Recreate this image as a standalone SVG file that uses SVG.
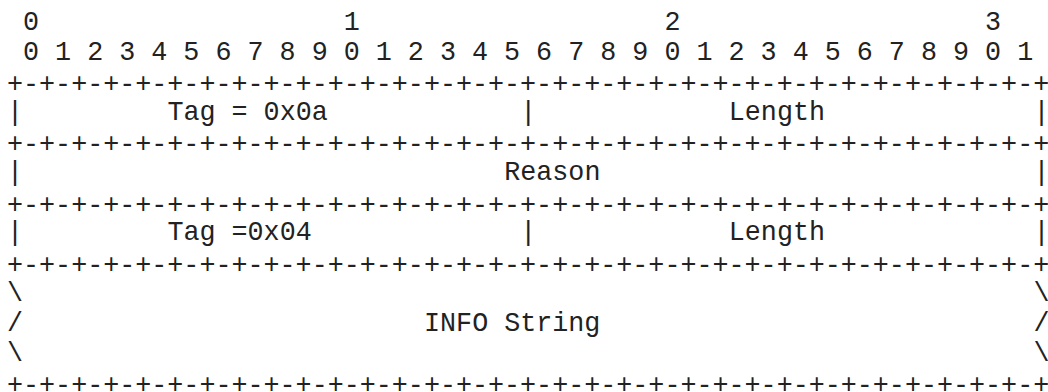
<svg xmlns="http://www.w3.org/2000/svg" width="1048" height="392" viewBox="0 0 1048 392">
<style>
text { font-family: "Liberation Mono", "Courier New", monospace; font-size: 26.73px; fill: #222; white-space: pre; }
</style>
<rect x="0" y="0" width="1048" height="392" fill="#ffffff"/>
<g id="ruler">
<text x="7" y="29.5" xml:space="preserve"> 0                   1                   2                   3</text>
<text x="7" y="59.6" xml:space="preserve"> 0 1 2 3 4 5 6 7 8 9 0 1 2 3 4 5 6 7 8 9 0 1 2 3 4 5 6 7 8 9 0 1</text>
</g>
<g id="connectors">
<text x="7" y="92.2">+-+-+-+-+-+-+-+-+-+-+-+-+-+-+-+-+-+-+-+-+-+-+-+-+-+-+-+-+-+-+-+-+</text>
<text x="7" y="120">|</text>
<text x="520.28" y="120">|</text>
<text x="1033.56" y="120">|</text>
<text x="7" y="152.4">+-+-+-+-+-+-+-+-+-+-+-+-+-+-+-+-+-+-+-+-+-+-+-+-+-+-+-+-+-+-+-+-+</text>
<text x="7" y="180.2">|</text>
<text x="1033.56" y="180.2">|</text>
<text x="7" y="212.6">+-+-+-+-+-+-+-+-+-+-+-+-+-+-+-+-+-+-+-+-+-+-+-+-+-+-+-+-+-+-+-+-+</text>
<text x="7" y="240.4">|</text>
<text x="520.28" y="240.4">|</text>
<text x="1033.56" y="240.4">|</text>
<text x="7" y="272.8">+-+-+-+-+-+-+-+-+-+-+-+-+-+-+-+-+-+-+-+-+-+-+-+-+-+-+-+-+-+-+-+-+</text>
<text x="7" y="300.6">\</text>
<text x="1033.56" y="300.6">\</text>
<text x="7" y="330.7">/</text>
<text x="1033.56" y="330.7">/</text>
<text x="7" y="360.8">\</text>
<text x="1033.56" y="360.8">\</text>
<text x="7" y="393.2">+-+-+-+-+-+-+-+-+-+-+-+-+-+-+-+-+-+-+-+-+-+-+-+-+-+-+-+-+-+-+-+-+</text>
</g>
<g id="field-tag-1"><text x="167.4" y="120" xml:space="preserve">Tag = 0x0a</text></g>
<g id="field-length-1"><text x="728.8" y="120">Length</text></g>
<g id="field-reason"><text x="504.24" y="180.2">Reason</text></g>
<g id="field-tag-2"><text x="167.4" y="240.4" xml:space="preserve">Tag =0x04</text></g>
<g id="field-length-2"><text x="728.8" y="240.4">Length</text></g>
<g id="field-info-string"><text x="424.04" y="330.7" xml:space="preserve">INFO String</text></g>
</svg>
